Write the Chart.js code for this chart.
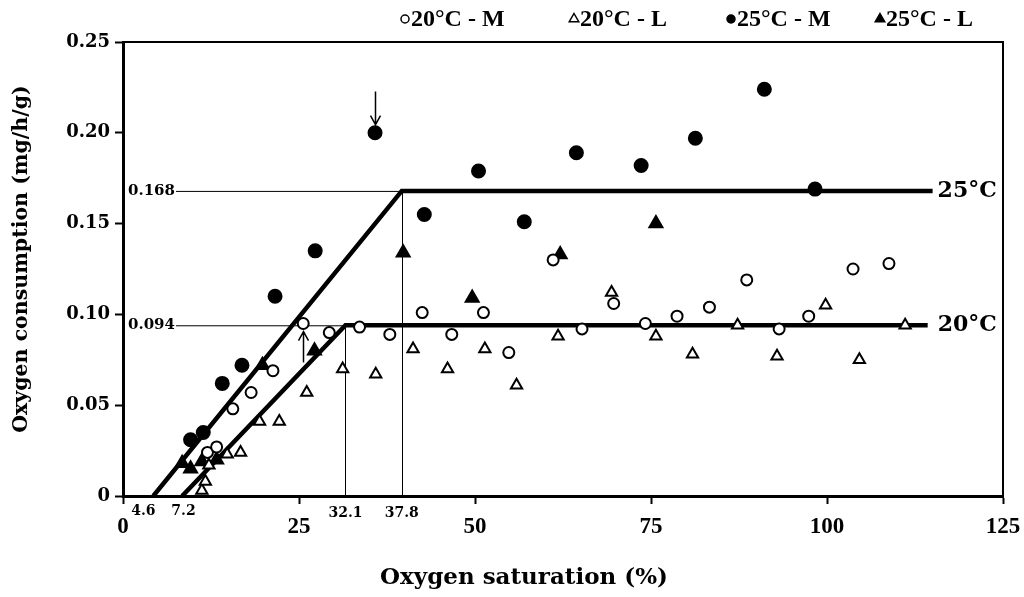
<!DOCTYPE html>
<html>
<head>
<meta charset="utf-8">
<script src="https://cdn.jsdelivr.net/npm/chart.js@4.4.1/dist/chart.umd.min.js"></script>
<style>
  html, body { margin: 0; padding: 0; background: #fff; }
  #wrap { width: 1024px; height: 597px; position: relative; }
</style>
</head>
<body>
<div id="wrap"><canvas id="chart"></canvas></div>
<script>
// oxygen saturation (%) -> oxygen consumption (mg/h/g)
const sat20M = [12.0, 13.3, 15.6, 18.2, 21.3, 25.6, 29.3, 33.6, 37.9, 42.5, 46.7, 51.2, 54.8, 61.1, 65.2, 69.7, 74.2, 78.7, 83.3, 88.6, 93.2, 97.4, 103.7, 108.8]
const o2_20M = [0.024, 0.027, 0.048, 0.057, 0.069, 0.095, 0.090, 0.093, 0.089, 0.101, 0.089, 0.101, 0.079, 0.130, 0.092, 0.106, 0.095, 0.099, 0.104, 0.119, 0.092, 0.099, 0.125, 0.128]

const sat20L = [11.2, 11.7, 12.2, 14.8, 16.7, 19.4, 22.2, 26.1, 31.2, 35.9, 41.2, 46.1, 51.4, 55.9, 61.8, 69.4, 75.7, 80.9, 87.3, 92.9, 99.8, 104.6, 111.1]
const o2_20L = [0.003, 0.008, 0.017, 0.023, 0.024, 0.041, 0.041, 0.057, 0.070, 0.067, 0.081, 0.070, 0.081, 0.061, 0.088, 0.112, 0.088, 0.078, 0.094, 0.077, 0.105, 0.075, 0.094]

const sat25M = [9.6, 11.4, 14.1, 16.9, 21.6, 27.3, 35.8, 42.8, 50.5, 57.0, 64.4, 73.6, 81.3, 91.1, 98.3]
const o2_25M = [0.031, 0.035, 0.062, 0.072, 0.110, 0.135, 0.200, 0.155, 0.179, 0.151, 0.189, 0.182, 0.197, 0.224, 0.169]

const sat25L = [8.4, 9.6, 11.2, 13.3, 19.8, 27.2, 39.8, 49.6, 62.1, 75.7]
const o2_25L = [0.018, 0.015, 0.019, 0.020, 0.072, 0.080, 0.134, 0.109, 0.133, 0.150]

// broken-line fits (start, breakpoint, end)
const fit25Sat = [4.3, 39.6, 115.0]
const fit25O2 = [0, 0.168, 0.168]
const fit20Sat = [8.4, 31.6, 114.3]
const fit20O2 = [0, 0.094, 0.094]

const seriesLabels = ['20°C - M', '20°C - L', '25°C - M', '25°C - L']
const fitLabels = ['25°C', '20°C']
const critLabels = ['4.6', '7.2', '32.1', '37.8']

const serif = '"DejaVu Serif", serif'
const times = '"Liberation Serif", serif'

const pts = (xs, ys) => xs.map((x, i) => ({ x: x, y: ys[i] }))

const extras = {
  id: 'extras',
  beforeDatasetsDraw(chart) {
    const ctx = chart.ctx
    const xs = chart.scales.x, ys = chart.scales.y
    ctx.save()
    ctx.strokeStyle = '#000'
    ctx.fillStyle = '#000'
    ctx.lineWidth = 1
    ctx.font = 'bold 15px ' + serif
    ctx.textBaseline = 'middle'
    // thin guide lines to each breakpoint
    ;[[fit25Sat[1], fit25O2[1]], [fit20Sat[1], fit20O2[1]]].forEach(([sx, oy]) => {
      const px = xs.getPixelForValue(sx), py = ys.getPixelForValue(oy)
      const txt = oy.toFixed(3)
      const tx = chart.chartArea.left + 5
      ctx.fillText(txt, tx, py)
      const w = ctx.measureText(txt).width
      ctx.beginPath()
      ctx.moveTo(tx + w + 1, py + 0.5)
      ctx.lineTo(px, py + 0.5)
      ctx.moveTo(Math.round(px) + 0.5, py)
      ctx.lineTo(Math.round(px) + 0.5, chart.chartArea.bottom)
      ctx.stroke()
    })
    ctx.restore()
  },
  afterDatasetsDraw(chart) {
    const ctx = chart.ctx
    const xs = chart.scales.x, ys = chart.scales.y
    const area = chart.chartArea
    ctx.save()
    ctx.strokeStyle = '#000'
    ctx.fillStyle = '#000'
    // arrows: [sat, from, to]
    ;[[35.8, 0.2228, 0.2045], [25.5, 0.0735, 0.0905]].forEach(([sx, a, b]) => {
      const px = Math.round(xs.getPixelForValue(sx)) + 0.5
      const p0 = ys.getPixelForValue(a), p1 = ys.getPixelForValue(b)
      const dir = p1 > p0 ? 1 : -1
      ctx.lineWidth = 1.5
      ctx.beginPath()
      ctx.moveTo(px, p0)
      ctx.lineTo(px, p1)
      ctx.moveTo(px - 5, p1 - dir * 9)
      ctx.lineTo(px, p1)
      ctx.lineTo(px + 5, p1 - dir * 9)
      ctx.stroke()
    })
    // labels at the end of each fitted line
    ctx.font = 'bold 22px ' + serif
    ctx.textBaseline = 'middle'
    ctx.fillText(fitLabels[0], xs.getPixelForValue(fit25Sat[2]) + 5, ys.getPixelForValue(fit25O2[2]))
    ctx.fillText(fitLabels[1], xs.getPixelForValue(fit20Sat[2]) + 10, ys.getPixelForValue(fit20O2[2]))
    // critical saturation values below the axis
    ctx.font = 'bold 14px ' + serif
    ctx.textAlign = 'center'
    const anchors = [2.9, 8.6, fit20Sat[1], fit25Sat[1]]
    critLabels.forEach((t, i) => {
      ctx.fillText(t, xs.getPixelForValue(anchors[i]), i < 2 ? area.bottom + 15 : area.bottom + 17)
    })
    ctx.restore()
  },
  afterDraw(chart) {
    const ctx = chart.ctx
    const area = chart.chartArea
    ctx.save()
    ctx.strokeStyle = '#000'
    ctx.fillStyle = '#000'
    // frame top + right
    ctx.lineWidth = 2
    ctx.beginPath()
    ctx.moveTo(area.left, area.top)
    ctx.lineTo(area.right, area.top)
    ctx.lineTo(area.right, area.bottom)
    ctx.stroke()
    // legend
    const lx = [401, 570, 727, 876]
    ctx.font = 'bold 24px ' + times
    ctx.textBaseline = 'middle'
    chart.data.datasets.slice(0, 4).forEach((ds, i) => {
      ctx.fillStyle = ds.pointBackgroundColor
      ctx.strokeStyle = '#000'
      ctx.lineWidth = 1.5
      Chart.helpers.drawPoint(ctx, { pointStyle: ds.pointStyle, radius: ds.pointStyle === 'triangle' ? 5.5 : 4, rotation: 0, borderWidth: 1.5 }, lx[i] + 4, 19)
      ctx.fillStyle = '#000'
      ctx.fillText(ds.label, lx[i] + 10, 20)
    })
    // axis titles
    ctx.textAlign = 'center'
    ctx.font = 'bold 23px ' + serif
    ctx.fillText('Oxygen saturation (%)', 524, 578)
    ctx.translate(22, 259)
    ctx.rotate(-Math.PI / 2)
    ctx.font = 'bold 20.5px ' + serif
    ctx.fillText('Oxygen consumption (mg/h/g)', 0, 0)
    ctx.restore()
  }
}

const markerSet = (data, label, style, r, fill) => ({
  label: label,
  data: data,
  pointStyle: style,
  pointRadius: r,
  pointHoverRadius: r,
  pointBorderWidth: 2,
  pointBorderColor: '#000',
  pointBackgroundColor: fill,
  showLine: false,
  order: 1
})

const fitLine = (data) => ({
  label: '',
  data: data,
  showLine: true,
  borderColor: '#000',
  borderWidth: 4.5,
  pointRadius: 0,
  fill: false,
  order: 5
})

new Chart(document.getElementById('chart'), {
  type: 'scatter',
  data: {
    datasets: [
      markerSet(pts(sat20M, o2_20M), seriesLabels[0], 'circle', 5.5, '#fff'),
      markerSet(pts(sat20L, o2_20L), seriesLabels[1], 'triangle', 6.5, '#fff'),
      markerSet(pts(sat25M, o2_25M), seriesLabels[2], 'circle', 6.5, '#000'),
      markerSet(pts(sat25L, o2_25L), seriesLabels[3], 'triangle', 7.5, '#000'),
      fitLine(pts(fit25Sat, fit25O2)),
      fitLine(pts(fit20Sat, fit20O2))
    ]
  },
  options: {
    responsive: true,
    maintainAspectRatio: false,
    animation: false,
    layout: { padding: { top: 42, right: 21, left: 0, bottom: 0 } },
    plugins: {
      legend: { display: false },
      tooltip: { enabled: false }
    },
    scales: {
      x: {
        type: 'linear',
        min: 0,
        max: 125,
        afterFit: s => { s.height = 101; s.paddingRight = 0; s.paddingLeft = 0 },
        ticks: { stepSize: 25, color: '#000', padding: 9, maxRotation: 0, font: { family: times, size: 23, weight: 'bold' } },
        grid: { display: true, drawOnChartArea: false, drawTicks: true, tickLength: 8, tickColor: '#000', tickWidth: 2 },
        border: { display: true, color: '#000', width: 3 }
      },
      y: {
        min: 0,
        max: 0.25,
        afterFit: s => { s.width = 123 },
        ticks: {
          stepSize: 0.05,
          color: '#000',
          padding: 5,
          font: { family: serif, size: 18, weight: 'bold' },
          callback: v => v === 0 ? '0' : v.toFixed(2)
        },
        grid: { display: true, drawOnChartArea: false, drawTicks: true, tickLength: 8, tickColor: '#000', tickWidth: 2 },
        border: { display: true, color: '#000', width: 3 }
      }
    }
  },
  plugins: [extras]
})
</script>
</body>
</html>
